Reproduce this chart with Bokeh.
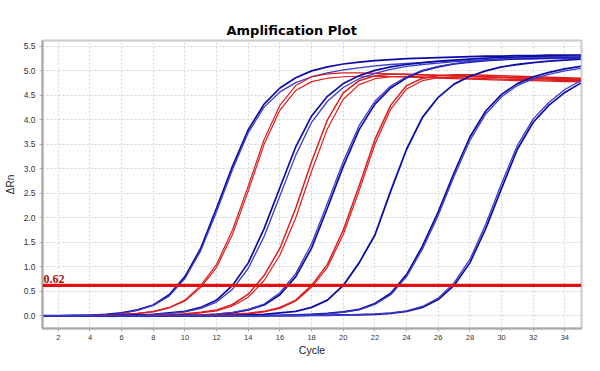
from bokeh.plotting import figure
from bokeh.models import Range1d, SingleIntervalTicker, PrintfTickFormatter, Span, Label
from bokeh.embed import file_html
from bokeh.resources import INLINE

cycles = list(range(1, 36))
threshold = 0.62

blue_a1 = [0.00, 0.00, 0.01, 0.01, 0.03, 0.06, 0.12, 0.22, 0.43, 0.80, 1.38, 2.20, 3.05, 3.80, 4.32, 4.65, 4.86, 5.00, 5.08, 5.14, 5.18, 5.21, 5.23, 5.25, 5.26, 5.27, 5.28, 5.29, 5.30, 5.30, 5.31, 5.31, 5.32, 5.32, 5.32]
blue_a2 = [0.00, 0.00, 0.00, 0.01, 0.02, 0.05, 0.11, 0.21, 0.40, 0.76, 1.33, 2.13, 2.98, 3.74, 4.26, 4.57, 4.76, 4.88, 4.96, 5.02, 5.06, 5.10, 5.13, 5.15, 5.17, 5.19, 5.20, 5.21, 5.22, 5.23, 5.24, 5.24, 5.25, 5.25, 5.26]
red_a1 = [0.00, 0.00, 0.00, 0.01, 0.02, 0.03, 0.05, 0.09, 0.17, 0.32, 0.62, 1.05, 1.75, 2.65, 3.60, 4.30, 4.70, 4.88, 4.94, 4.96, 4.96, 4.95, 4.94, 4.93, 4.92, 4.91, 4.90, 4.89, 4.88, 4.87, 4.86, 4.85, 4.84, 4.84, 4.83]
red_a2 = [0.00, 0.00, 0.00, 0.00, 0.01, 0.03, 0.05, 0.08, 0.16, 0.30, 0.58, 0.99, 1.66, 2.55, 3.50, 4.20, 4.60, 4.78, 4.85, 4.88, 4.89, 4.89, 4.88, 4.87, 4.86, 4.85, 4.84, 4.83, 4.82, 4.81, 4.80, 4.80, 4.79, 4.78, 4.78]
blue_b1 = [0.00, 0.00, 0.00, 0.00, 0.00, 0.01, 0.02, 0.03, 0.06, 0.09, 0.17, 0.32, 0.62, 1.08, 1.78, 2.62, 3.45, 4.08, 4.48, 4.74, 4.90, 5.01, 5.08, 5.13, 5.17, 5.20, 5.22, 5.24, 5.26, 5.27, 5.28, 5.29, 5.30, 5.30, 5.31]
blue_b2 = [0.00, 0.00, 0.00, 0.00, 0.00, 0.00, 0.01, 0.03, 0.05, 0.08, 0.15, 0.28, 0.54, 0.97, 1.62, 2.45, 3.28, 3.95, 4.38, 4.66, 4.84, 4.95, 5.03, 5.09, 5.13, 5.16, 5.19, 5.21, 5.23, 5.24, 5.25, 5.26, 5.27, 5.27, 5.28]
red_b1 = [0.00, 0.00, 0.00, 0.00, 0.00, 0.00, 0.00, 0.01, 0.02, 0.04, 0.07, 0.12, 0.23, 0.44, 0.82, 1.38, 2.20, 3.15, 4.00, 4.55, 4.80, 4.90, 4.93, 4.93, 4.92, 4.91, 4.90, 4.89, 4.88, 4.87, 4.86, 4.85, 4.85, 4.84, 4.83]
red_b2 = [0.00, 0.00, 0.00, 0.00, 0.00, 0.00, 0.00, 0.01, 0.02, 0.03, 0.06, 0.10, 0.20, 0.38, 0.72, 1.24, 2.00, 2.95, 3.82, 4.42, 4.72, 4.84, 4.88, 4.89, 4.88, 4.87, 4.86, 4.85, 4.84, 4.83, 4.82, 4.82, 4.81, 4.80, 4.80]
blue_c1 = [0.00, 0.00, 0.00, 0.00, 0.00, 0.00, 0.00, 0.00, 0.00, 0.01, 0.01, 0.03, 0.06, 0.12, 0.22, 0.43, 0.80, 1.38, 2.20, 3.05, 3.80, 4.32, 4.65, 4.86, 5.00, 5.08, 5.14, 5.18, 5.21, 5.23, 5.25, 5.26, 5.27, 5.28, 5.29]
blue_c2 = [0.00, 0.00, 0.00, 0.00, 0.00, 0.00, 0.00, 0.00, 0.00, 0.01, 0.02, 0.04, 0.07, 0.13, 0.24, 0.47, 0.86, 1.47, 2.30, 3.15, 3.88, 4.38, 4.69, 4.88, 5.01, 5.09, 5.15, 5.19, 5.22, 5.24, 5.26, 5.27, 5.28, 5.29, 5.30]
red_c1 = [0.00, 0.00, 0.00, 0.00, 0.00, 0.00, 0.00, 0.00, 0.00, 0.00, 0.01, 0.02, 0.03, 0.05, 0.09, 0.17, 0.32, 0.62, 1.05, 1.75, 2.65, 3.60, 4.30, 4.70, 4.85, 4.90, 4.92, 4.92, 4.91, 4.90, 4.89, 4.88, 4.87, 4.86, 4.85]
red_c2 = [0.00, 0.00, 0.00, 0.00, 0.00, 0.00, 0.00, 0.00, 0.00, 0.00, 0.01, 0.02, 0.03, 0.04, 0.08, 0.15, 0.30, 0.58, 0.99, 1.66, 2.55, 3.50, 4.22, 4.63, 4.80, 4.86, 4.88, 4.88, 4.87, 4.86, 4.85, 4.84, 4.83, 4.82, 4.81]
blue_d1 = [0.00, 0.00, 0.00, 0.00, 0.00, 0.00, 0.00, 0.00, 0.00, 0.00, 0.00, 0.00, 0.01, 0.02, 0.03, 0.06, 0.09, 0.17, 0.32, 0.62, 1.08, 1.65, 2.55, 3.40, 4.05, 4.46, 4.73, 4.89, 5.00, 5.08, 5.13, 5.17, 5.20, 5.22, 5.24]
blue_e1 = [0.00, 0.00, 0.00, 0.00, 0.00, 0.00, 0.00, 0.00, 0.00, 0.00, 0.00, 0.00, 0.00, 0.00, 0.01, 0.01, 0.02, 0.03, 0.05, 0.08, 0.13, 0.25, 0.46, 0.84, 1.42, 2.12, 2.92, 3.65, 4.18, 4.52, 4.74, 4.88, 4.97, 5.04, 5.09]
blue_e2 = [0.00, 0.00, 0.00, 0.00, 0.00, 0.00, 0.00, 0.00, 0.00, 0.00, 0.00, 0.00, 0.00, 0.00, 0.00, 0.01, 0.02, 0.03, 0.04, 0.07, 0.12, 0.23, 0.43, 0.80, 1.36, 2.05, 2.85, 3.58, 4.12, 4.47, 4.70, 4.84, 4.93, 5.00, 5.05]
blue_f1 = [0.00, 0.00, 0.00, 0.00, 0.00, 0.00, 0.00, 0.00, 0.00, 0.00, 0.00, 0.00, 0.00, 0.00, 0.00, 0.00, 0.00, 0.01, 0.01, 0.02, 0.02, 0.03, 0.05, 0.09, 0.17, 0.33, 0.62, 1.08, 1.78, 2.60, 3.40, 3.95, 4.30, 4.56, 4.75]
blue_f2 = [0.00, 0.00, 0.00, 0.00, 0.00, 0.00, 0.00, 0.00, 0.00, 0.00, 0.00, 0.00, 0.00, 0.00, 0.00, 0.00, 0.00, 0.01, 0.01, 0.02, 0.03, 0.04, 0.06, 0.10, 0.19, 0.36, 0.67, 1.15, 1.87, 2.70, 3.48, 4.02, 4.36, 4.62, 4.80]

BLUE_DARK = "#0c0ca4"
BLUE_LIGHT = "#3c3cc8"
RED = "#dc1e1e"

series = [
    (blue_a1, BLUE_DARK, 1.7), (blue_a2, BLUE_LIGHT, 1.3),
    (red_a1, RED, 1.2), (red_a2, RED, 1.2),
    (blue_b1, BLUE_DARK, 1.7), (blue_b2, BLUE_LIGHT, 1.3),
    (red_b1, RED, 1.5), (red_b2, RED, 1.2),
    (blue_c1, BLUE_DARK, 1.7), (blue_c2, BLUE_LIGHT, 1.3),
    (red_c1, RED, 1.5), (red_c2, RED, 1.2),
    (blue_d1, BLUE_DARK, 1.8),
    (blue_e1, BLUE_DARK, 1.7), (blue_e2, BLUE_LIGHT, 1.3),
    (blue_f1, BLUE_DARK, 1.7), (blue_f2, BLUE_LIGHT, 1.3),
]

p = figure(frame_width=539, frame_height=288, output_backend="svg", toolbar_location=None,
           x_range=Range1d(1.0, 35.05), y_range=Range1d(-0.26, 5.62),
           min_border_left=42, min_border_right=11, min_border_top=40, min_border_bottom=30)

p.title.text = "Amplification Plot"
p.title.text_font = "DejaVu Sans"
p.title.text_font_size = "13px"
p.title.text_font_style = "bold"
p.title.text_color = "#000000"
p.title.align = "left"
p.title.offset = 184
p.title.standoff = 6

p.background_fill_color = "white"
p.border_fill_color = "white"
p.outline_line_color = "#cccccc"
p.outline_line_width = 2

for ys, col, w in series:
    p.line(cycles, ys, line_color=col, line_width=w)

p.add_layout(Span(location=threshold, dimension="width", line_color="#e01010", line_width=3.2))
p.add_layout(Label(x=1.0, y=threshold, text=f"{threshold:.2f}", x_offset=1, y_offset=2,
                   text_font="Liberation Serif", text_font_style="bold", text_font_size="12px",
                   text_color="#a81010", text_baseline="bottom"))

p.xaxis.ticker = SingleIntervalTicker(interval=2)
p.yaxis.ticker = SingleIntervalTicker(interval=0.5)
p.yaxis.formatter = PrintfTickFormatter(format="%.1f")

for ax in (p.xaxis[0], p.yaxis[0]):
    ax.axis_line_color = "#a8a8a8"
    ax.axis_line_width = 2
    ax.major_tick_line_color = "#a8a8a8"
    ax.major_tick_out = 3
    ax.major_tick_in = 0
    ax.minor_tick_line_color = None
    ax.major_label_text_font = "Liberation Sans"
    ax.major_label_text_color = "#333333"
    ax.axis_label_text_font = "Liberation Sans"
    ax.axis_label_text_font_style = "normal"
    ax.axis_label_text_color = "#222222"

p.xaxis.major_label_text_font_size = "7.5px"
p.yaxis.major_label_text_font_size = "8.5px"
p.xaxis.major_label_standoff = 2
p.yaxis.major_label_standoff = 3
p.xaxis.axis_label = "Cycle"
p.yaxis.axis_label = "ΔRn"
p.xaxis.axis_label_text_font_size = "10.5px"
p.yaxis.axis_label_text_font_size = "10px"
p.xaxis.axis_label_standoff = 1
p.yaxis.axis_label_standoff = 5

p.xgrid.grid_line_color = "#d4d4d4"
p.ygrid.grid_line_color = "#d4d4d4"
p.xgrid.grid_line_dash = "2 2"
p.ygrid.grid_line_dash = "2 2"

open("out.html", "w").write(file_html(p, INLINE))
